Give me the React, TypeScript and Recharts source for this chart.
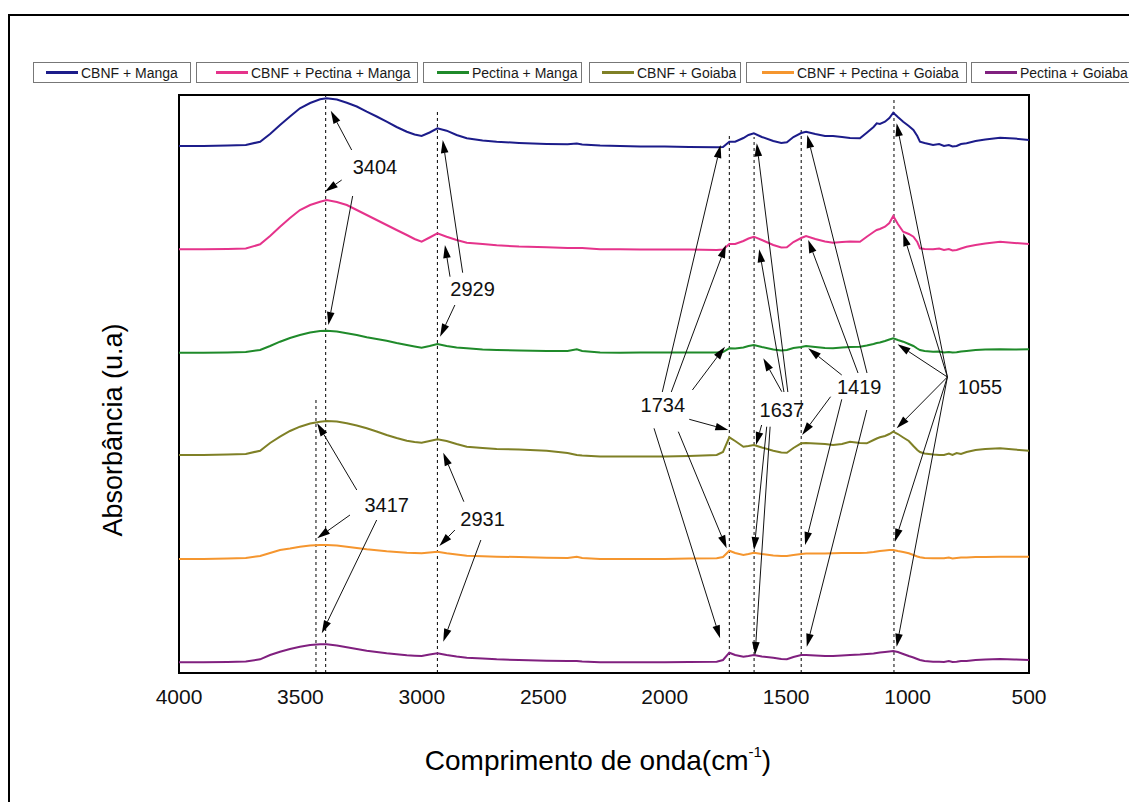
import React from 'react';
import {
  LineChart,
  Line,
  XAxis,
  YAxis,
  Legend,
  ReferenceLine,
  ReferenceDot,
  ReferenceArea,
} from 'recharts';

// ---------- data ----------
const wavenumbers = [
  4000, 3900, 3800, 3725, 3666, 3625, 3584, 3543, 3502, 3460,
  3419, 3392, 3350, 3309, 3268, 3227, 3186, 3145, 3104, 3062,
  3030, 3001, 2968, 2936, 2898, 2857, 2815, 2750, 2692, 2600,
  2486, 2400, 2362, 2340, 2266, 2184, 2100, 2000, 1900, 1786,
  1760, 1734, 1710, 1676, 1655, 1633, 1600, 1553, 1520, 1497,
  1470, 1438, 1418, 1380, 1340, 1307, 1270, 1237, 1196, 1168,
  1140, 1127, 1114, 1093, 1075, 1059, 1040, 1018, 995, 976,
  960, 949, 930, 895, 870, 850, 830, 815, 798, 780,
  757, 720, 680, 619, 560, 500,
];

const cbnfManga = [
  5.27, 5.27, 5.275, 5.28, 5.313, 5.39, 5.48, 5.565, 5.647, 5.7,
  5.737, 5.747, 5.735, 5.703, 5.665, 5.613, 5.565, 5.513, 5.46, 5.413,
  5.385, 5.37, 5.405, 5.447, 5.423, 5.38, 5.347, 5.325, 5.313, 5.3,
  5.29, 5.287, 5.295, 5.285, 5.275, 5.27, 5.265, 5.265, 5.26, 5.257,
  5.26, 5.313, 5.313, 5.35, 5.38, 5.397, 5.36, 5.32, 5.3, 5.307,
  5.36, 5.4, 5.413, 5.39, 5.37, 5.37, 5.36, 5.35, 5.347, 5.403,
  5.46, 5.497, 5.49, 5.513, 5.55, 5.603, 5.56, 5.513, 5.47, 5.43,
  5.37, 5.313, 5.3, 5.28, 5.29, 5.27, 5.28, 5.265, 5.27, 5.29,
  5.297, 5.32, 5.335, 5.353, 5.345, 5.33,
];

const cbnfPectinaManga = [
  4.237, 4.237, 4.24, 4.245, 4.287, 4.37, 4.463, 4.55, 4.63, 4.68,
  4.713, 4.73, 4.71, 4.68, 4.63, 4.58, 4.53, 4.48, 4.43, 4.38,
  4.34, 4.313, 4.355, 4.397, 4.363, 4.33, 4.303, 4.29, 4.277, 4.265,
  4.257, 4.25, 4.25, 4.25, 4.237, 4.237, 4.235, 4.235, 4.235, 4.23,
  4.235, 4.29, 4.29, 4.32, 4.345, 4.363, 4.33, 4.28, 4.255, 4.257,
  4.31, 4.35, 4.37, 4.34, 4.315, 4.303, 4.31, 4.315, 4.313, 4.363,
  4.41, 4.43, 4.44, 4.463, 4.5, 4.57, 4.49, 4.413, 4.39, 4.363,
  4.31, 4.247, 4.24, 4.237, 4.245, 4.23, 4.24, 4.225, 4.23, 4.245,
  4.263, 4.28, 4.295, 4.313, 4.3, 4.29,
];

const pectinaManga = [
  3.203, 3.203, 3.205, 3.21, 3.23, 3.27, 3.313, 3.35, 3.38, 3.405,
  3.42, 3.423, 3.415, 3.397, 3.38, 3.357, 3.34, 3.323, 3.3, 3.28,
  3.265, 3.253, 3.27, 3.29, 3.27, 3.255, 3.247, 3.235, 3.23, 3.225,
  3.22, 3.22, 3.237, 3.22, 3.205, 3.203, 3.205, 3.205, 3.205, 3.205,
  3.21, 3.247, 3.245, 3.255, 3.27, 3.28, 3.26, 3.235, 3.225, 3.23,
  3.25, 3.26, 3.27, 3.26, 3.25, 3.247, 3.255, 3.26, 3.263, 3.275,
  3.29, 3.3, 3.305, 3.32, 3.335, 3.347, 3.33, 3.313, 3.29, 3.27,
  3.245, 3.23, 3.22, 3.213, 3.215, 3.205, 3.21, 3.205, 3.207, 3.215,
  3.22, 3.23, 3.235, 3.237, 3.235, 3.237,
];

const cbnfGoiaba = [
  2.18, 2.18, 2.185, 2.19, 2.223, 2.3, 2.363, 2.42, 2.463, 2.495,
  2.513, 2.52, 2.515, 2.497, 2.475, 2.447, 2.415, 2.38, 2.35, 2.323,
  2.31, 2.303, 2.32, 2.337, 2.32, 2.29, 2.263, 2.25, 2.24, 2.235,
  2.223, 2.2, 2.18, 2.175, 2.165, 2.165, 2.165, 2.165, 2.17, 2.18,
  2.21, 2.357, 2.32, 2.263, 2.27, 2.28, 2.255, 2.223, 2.205, 2.203,
  2.25, 2.297, 2.3, 2.295, 2.29, 2.28, 2.29, 2.313, 2.3, 2.297,
  2.33, 2.345, 2.357, 2.37, 2.39, 2.413, 2.39, 2.355, 2.32, 2.27,
  2.23, 2.21, 2.195, 2.185, 2.18, 2.18, 2.195, 2.18, 2.2, 2.19,
  2.21, 2.23, 2.24, 2.247, 2.235, 2.223,
];

const cbnfPectinaGoiaba = [
  1.14, 1.14, 1.145, 1.15, 1.17, 1.2, 1.23, 1.245, 1.263, 1.275,
  1.28, 1.28, 1.275, 1.263, 1.25, 1.237, 1.227, 1.217, 1.21, 1.203,
  1.2, 1.197, 1.205, 1.213, 1.197, 1.185, 1.173, 1.168, 1.163, 1.16,
  1.153, 1.15, 1.163, 1.15, 1.14, 1.14, 1.14, 1.14, 1.145, 1.147,
  1.16, 1.223, 1.2, 1.18, 1.19, 1.203, 1.19, 1.175, 1.17, 1.17,
  1.18, 1.19, 1.195, 1.195, 1.195, 1.197, 1.2, 1.2, 1.2, 1.203,
  1.21, 1.215, 1.22, 1.225, 1.23, 1.23, 1.22, 1.21, 1.197, 1.18,
  1.165, 1.157, 1.15, 1.147, 1.147, 1.147, 1.155, 1.145, 1.15, 1.155,
  1.155, 1.16, 1.16, 1.163, 1.163, 1.163,
];

const pectinaGoiaba = [
  0.107, 0.107, 0.11, 0.115, 0.137, 0.18, 0.213, 0.24, 0.263, 0.28,
  0.287, 0.287, 0.275, 0.257, 0.24, 0.223, 0.21, 0.197, 0.187, 0.177,
  0.173, 0.17, 0.185, 0.197, 0.18, 0.165, 0.153, 0.145, 0.137, 0.13,
  0.123, 0.12, 0.12, 0.115, 0.107, 0.107, 0.107, 0.107, 0.11, 0.113,
  0.13, 0.203, 0.18, 0.163, 0.17, 0.18, 0.165, 0.153, 0.14, 0.137,
  0.16, 0.18, 0.18, 0.175, 0.17, 0.17, 0.175, 0.18, 0.185, 0.19,
  0.195, 0.2, 0.205, 0.21, 0.215, 0.22, 0.21, 0.19, 0.17, 0.155,
  0.14, 0.13, 0.12, 0.113, 0.113, 0.11, 0.12, 0.11, 0.113, 0.12,
  0.12, 0.13, 0.135, 0.14, 0.135, 0.13,
];

const seriesNames = [
  'CBNF + Manga',
  'CBNF + Pectina + Manga',
  'Pectina + Manga',
  'CBNF + Goiaba',
  'CBNF + Pectina + Goiaba',
  'Pectina + Goiaba',
];
const seriesKeys = ['s1', 's2', 's3', 's4', 's5', 's6'];
const seriesColors = ['#1c1c8a', '#e5338b', '#1f8a2a', '#7f8026', '#f5962f', '#80207f'];
const seriesValues = [
  cbnfManga,
  cbnfPectinaManga,
  pectinaManga,
  cbnfGoiaba,
  cbnfPectinaGoiaba,
  pectinaGoiaba,
];

const xTicks = [4000, 3500, 3000, 2500, 2000, 1500, 1000, 500];

// dashed guide lines: [wavenumber, top value]
const guideLines = [
  [3396, 5.78],
  [3436, 2.73],
  [2936, 5.613],
  [1734, 5.4],
  [1632, 5.36],
  [1438, 5.43],
  [1056, 5.75],
];

// annotation labels: [text, wavenumber, value]
const peakLabels: [string, number, number][] = [
  ['3404', 3193, 5.063],
  ['2929', 2791, 3.837],
  ['3417', 3145, 1.68],
  ['2931', 2750, 1.537],
  ['1734', 2008, 2.68],
  ['1637', 1518, 2.63],
  ['1419', 1199, 2.863],
  ['1055', 702, 2.857],
];

// arrows: [fromWn, fromV, toWn, toV]
const arrows = [
  [3289, 5.23, 3375, 5.623],
  [3330, 4.93, 3399, 4.813],
  [3285, 4.77, 3385, 3.48],
  [2832, 4.003, 2914, 5.33],
  [2884, 3.963, 2905, 4.28],
  [2864, 3.68, 2925, 3.363],
  [3268, 1.83, 3431, 2.497],
  [3296, 1.58, 3431, 1.347],
  [3186, 1.53, 3412, 0.397],
  [2827, 1.713, 2912, 2.203],
  [2864, 1.43, 2928, 1.27],
  [2757, 1.33, 2912, 0.313],
  [2010, 2.81, 1770, 5.28],
  [1973, 2.81, 1748, 4.28],
  [1886, 2.83, 1752, 3.263],
  [1899, 2.537, 1738, 2.43],
  [1944, 2.413, 1745, 1.247],
  [2044, 2.447, 1772, 0.347],
  [1493, 2.81, 1621, 5.297],
  [1509, 2.81, 1611, 4.237],
  [1518, 2.813, 1594, 3.147],
  [1601, 2.48, 1624, 2.28],
  [1580, 2.463, 1632, 1.23],
  [1566, 2.463, 1628, 0.18],
  [1167, 3.0, 1413, 5.38],
  [1204, 3.0, 1409, 4.33],
  [1271, 2.98, 1409, 3.247],
  [1317, 2.763, 1434, 2.38],
  [1271, 2.737, 1422, 1.28],
  [1168, 2.63, 1415, 0.263],
  [836, 2.96, 1045, 5.497],
  [836, 2.96, 1018, 4.397],
  [836, 2.96, 1041, 3.287],
  [836, 2.96, 1045, 2.447],
  [836, 2.96, 1052, 1.313],
  [836, 2.96, 1045, 0.263],
];

const chartData = wavenumbers.map((wn, i) => {
  const row: Record<string, number> = { wn };
  seriesKeys.forEach((k, j) => {
    row[k] = seriesValues[j][i];
  });
  return row;
});

const FONT = '"Liberation Sans", Arial, Helvetica, sans-serif';

// ---------- shapes ----------
const ArrowShape = (p: any) => {
  const { x1, y1, x2, y2 } = p;
  const dx = x2 - x1;
  const dy = y2 - y1;
  const len = Math.hypot(dx, dy) || 1;
  const ux = dx / len;
  const uy = dy / len;
  const L = 13;
  const W = 3.8;
  const bx = x2 - ux * L;
  const by = y2 - uy * L;
  const pts = `${x2},${y2} ${bx - uy * W},${by + ux * W} ${bx + uy * W},${by - ux * W}`;
  return (
    <g>
      <line x1={x1} y1={y1} x2={bx} y2={by} stroke="#111" strokeWidth={1} />
      <polygon points={pts} fill="#000" />
    </g>
  );
};

const DashedShape = (p: any) => (
  <line
    x1={p.x1}
    y1={p.y1}
    x2={p.x2}
    y2={p.y2}
    stroke="#000"
    strokeWidth={1}
    strokeDasharray="3 3"
  />
);

const renderLegend = () => {
  const lefts = [33, 196, 423, 589, 746, 971];
  const widths = [158, 222, 159, 152, 221, 170];
  const pads = [12, 19, 13, 12, 15, 13];
  return (
    <div style={{ position: 'absolute', left: 0, top: 0, width: 0, height: 0 }}>
      {seriesNames.map((name, i) => (
        <div
          key={name}
          style={{
            position: 'absolute',
            left: lefts[i],
            top: 62,
            width: widths[i],
            height: 21,
            boxSizing: 'border-box',
            border: '1px solid #777',
            display: 'flex',
            alignItems: 'center',
            justifyContent: 'flex-start',
            paddingLeft: pads[i],
            fontFamily: FONT,
            fontSize: 14,
            color: '#1a1a1a',
            whiteSpace: 'nowrap',
            background: '#fff',
          }}
        >
          <span
            style={{
              display: 'inline-block',
              width: 32,
              height: 2.5,
              background: seriesColors[i],
              marginRight: 3,
            }}
          />
          {name}
        </div>
      ))}
    </div>
  );
};

const XLabel = (props: any) => {
  const vb = props.viewBox || { x: 179, y: 673, width: 850, height: 30 };
  const cx = vb.x + vb.width / 2 - 6;
  const y = vb.y + 97;
  return (
    <text x={cx} y={y} textAnchor="middle" fontFamily={FONT} fontSize={28} fill="#000">
      Comprimento de onda(cm
      <tspan fontSize={15} dy={-13}>-1</tspan>
      <tspan fontSize={28} dy={13}>)</tspan>
    </text>
  );
};

const YLabel = (props: any) => {
  const vb = props.viewBox || { x: 119, y: 95, width: 60, height: 578 };
  const x = vb.x - 6;
  const y = vb.y + vb.height / 2 + 46;
  return (
    <text
      x={x}
      y={y}
      textAnchor="middle"
      dominantBaseline="central"
      transform={`rotate(-90, ${x}, ${y})`}
      fontFamily={FONT}
      fontSize={27}
      fill="#000"
    >
      Absorbância (u.a)
    </text>
  );
};

export default function App() {
  return (
    <div
      style={{
        position: 'fixed',
        left: 0,
        top: 0,
        width: 1129,
        height: 802,
        overflow: 'hidden',
        background: '#fff',
      }}
    >
      <div
        style={{
          position: 'absolute',
          left: 8,
          top: 14,
          width: 1300,
          height: 1000,
          border: '2px solid #000',
        }}
      />
      <div style={{ position: 'absolute', left: 0, top: 0 }}>
        <LineChart
          width={1129}
          height={802}
          data={chartData}
          margin={{ top: 95, right: 100, bottom: 99, left: 119 }}
        >
          <XAxis
            dataKey="wn"
            type="number"
            domain={[500, 4000]}
            reversed
            ticks={xTicks}
            interval={0}
            allowDataOverflow
            tickLine={false}
            axisLine={false}
            tickMargin={10}
            height={30}
            tick={{ fontSize: 21, fill: '#111', fontFamily: FONT }}
            label={XLabel}
          />
          <YAxis
            type="number"
            domain={[0, 5.78]}
            allowDataOverflow
            width={60}
            tick={false}
            tickLine={false}
            axisLine={false}
            label={YLabel}
          />
          <Legend content={renderLegend} wrapperStyle={{ left: 0, top: 0, width: 0, height: 0 }} />
          {guideLines.map(([wn, top], i) => (
            <ReferenceLine
              key={`g${i}`}
              segment={[
                { x: wn, y: 0 },
                { x: wn, y: top },
              ]}
              shape={DashedShape}
              ifOverflow="visible"
            />
          ))}
          {seriesKeys.map((k, i) => (
            <Line
              key={k}
              dataKey={k}
              name={seriesNames[i]}
              type="linear"
              stroke={seriesColors[i]}
              strokeWidth={2}
              dot={false}
              isAnimationActive={false}
            />
          ))}
          <ReferenceArea
            x1={4000}
            x2={500}
            y1={0}
            y2={5.78}
            fill="none"
            fillOpacity={0}
            stroke="#000"
            strokeWidth={2}
            ifOverflow="visible"
          />
          {arrows.map(([a, b, c, d], i) => (
            <ReferenceLine
              key={`a${i}`}
              segment={[
                { x: a, y: b },
                { x: c, y: d },
              ]}
              shape={ArrowShape}
              ifOverflow="visible"
            />
          ))}
          {peakLabels.map(([t, wn, v]) => (
            <ReferenceDot
              key={`l${t}`}
              x={wn}
              y={v}
              r={0}
              ifOverflow="visible"
              shape={(p: any) => (
                <text
                  x={p.cx}
                  y={p.cy}
                  textAnchor="middle"
                  dominantBaseline="central"
                  fontFamily={FONT}
                  fontSize={20}
                  fill="#111"
                >
                  {t}
                </text>
              )}
            />
          ))}
        </LineChart>
      </div>
    </div>
  );
}
